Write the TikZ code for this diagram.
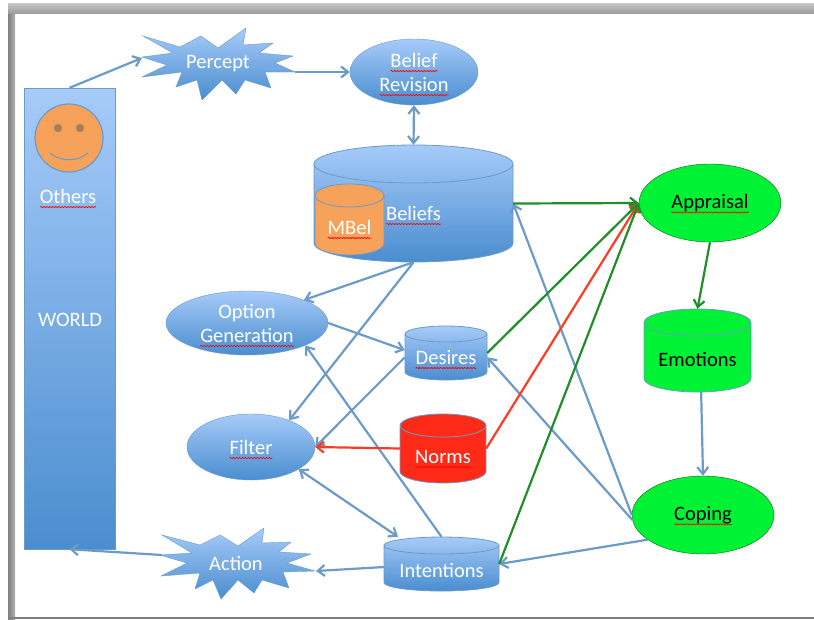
\documentclass[tikz,border=0pt]{standalone}
\usepackage{fontspec}
\setmainfont{Carlito}
\usetikzlibrary{shapes.geometric,arrows.meta,decorations.pathmorphing}
\definecolor{blueT}{HTML}{A6CBF9}
\definecolor{blueB}{HTML}{4A8DCF}
\definecolor{edgeB}{HTML}{6C9BC9}
\definecolor{lineG}{HTML}{1F8F2A}
\definecolor{lineR}{HTML}{FF3B24}
\definecolor{fillG}{HTML}{00F234}
\definecolor{fillO}{HTML}{F7A25A}
\definecolor{fillR}{HTML}{FF2A17}
\newsavebox\wordbox
\newcommand\spell[1]{\sbox\wordbox{#1}\leavevmode\tikz[overlay,baseline=0pt,x=1pt,y=1pt]\draw[red, line width=0.6pt, decorate, decoration={snake,amplitude=0.7pt,segment length=3pt}] (0,-4) -- (\wd\wordbox,-4);\usebox\wordbox}
% style, centre x, centre y, half width, half height, rim radius
\newcommand\drumbody[6]{%
	\draw[edgeB, line width=0.8pt, #1] ({#2-#4},{#3-#5+#6}) arc[start angle=180, end angle=360, x radius=#4, y radius=#6] -- ({#2+#4},{#3+#5-#6}) arc[start angle=0, end angle=180, x radius=#4, y radius=#6] -- cycle;
	\draw[edgeB, line width=0.8pt] ({#2-#4},{#3-#5+#6}) arc[start angle=180, end angle=0, x radius=#4, y radius=#6];
}
\begin{document}
\begin{tikzpicture}[x=1pt, y=-1pt, font=\fontsize{20.5}{24}\selectfont,
	blob/.style={ellipse, draw=edgeB, top color=blueT, bottom color=blueB, text=white, align=center, inner sep=0pt},
	greenblob/.style={ellipse, draw=lineG!70!black, fill=fillG, text=black, inner sep=0pt},
	drum/.style={rectangle, text=white, inner sep=0pt, text depth=0pt},
	bluedrum/.style={top color=blueT, bottom color=blueB},
	burst/.style={draw=edgeB, top color=blueT, bottom color=blueB},
	caption/.style={text=white, inner sep=0pt},
	link/.style={draw=edgeB, line width=2.2pt, -{Straight Barb[length=7pt,width=11pt]}},
	twoway/.style={draw=edgeB, line width=2.2pt, {Straight Barb[length=7pt,width=11pt]}-{Straight Barb[length=7pt,width=11pt]}},
	greenlink/.style={draw=lineG, line width=2.2pt, -{Straight Barb[length=7pt,width=11pt]}},
	redlink/.style={draw=lineR, line width=2.2pt, -{Straight Barb[length=7pt,width=11pt]}}]
	\useasboundingbox (0,0) rectangle (814,619);
	% window frame
	\fill[white] (0,0) rectangle (814,619);
	\fill[left color=black!50, right color=black!30] (8,3) rectangle (15,619);
	\fill[top color=black!22, bottom color=black!38] (8,3) rectangle (814,13);
	\fill[black!50] (8,617) rectangle (814,619);
	% world column
	\node[rectangle, draw=edgeB, top color=blueT, bottom color=blueB, minimum width=91pt, minimum height=461pt, inner sep=0pt] (W) at (69.5,318.5) {};
	\node[caption] (WT) at (70,320) {WORLD};
	\node[circle, draw=edgeB, line width=1.2pt, fill=fillO, minimum size=68pt, inner sep=0pt] (F) at (69,138) {};
	\fill[fill=black!25!fillO, draw=edgeB] (58,128) circle (4) (80,128) circle (4);
	\draw[edgeB, line width=1pt] (50,153) .. controls (60,162) and (78,162) .. (88,153);
	\node[caption] (O) at (68,196) {\spell{Others}};
	% bursts
	\draw[burst] (143,36) -- (180,47) -- (201,36) -- (218,48) -- (246,28) -- (243,45) -- (273,43) -- (259,53) -- (293,56) -- (275,63) -- (295,72) -- (265,72) -- (271,88) -- (245,80) -- (236,94) -- (222,80) -- (202,100) -- (197,80) -- (176,87) -- (182,72) -- (142,77) -- (167,65) -- (142,57) -- (173,53) -- cycle;
	\node[caption] (P) at (218,64) {Percept};
	\coordinate (PL) at (142,58);
	\coordinate (PR) at (295,72);
	\draw[burst] (162,535) -- (200,545) -- (220,535) -- (238,546) -- (264,528) -- (262,543) -- (291,542) -- (279,552) -- (311,554) -- (287,563) -- (315,571) -- (283,572) -- (289,588) -- (262,580) -- (254,593) -- (238,580) -- (221,599) -- (213,580) -- (195,589) -- (200,573) -- (161,576) -- (187,563) -- (160,555) -- (192,553) -- cycle;
	\node[caption] (A) at (236,563) {Action};
	\coordinate (AL) at (162,555);
	\coordinate (AR) at (316,571);
	% ellipses
	\node[blob, minimum width=128pt, minimum height=66pt] (BR) at (414,72) {\spell{Belief}\\\spell{Revision}};
	\node[blob, minimum width=162pt, minimum height=64pt] (OG) at (247,323) {Option\\\spell{Generation}};
	\node[blob, minimum width=128pt, minimum height=66pt] (Fi) at (251,447) {\spell{Filter}};
	\node[greenblob, minimum width=142pt, minimum height=78pt] (Ap) at (710,203) {\spell{Appraisal}};
	\node[greenblob, minimum width=142pt, minimum height=78pt] (Co) at (703,515) {\spell{Coping}};
	% cylinders
	\drumbody{bluedrum}{413.5}{203.5}{99.5}{58.5}{19}
	\node[drum, minimum width=199pt, minimum height=117pt, text height=33pt] (Be) at (413.5,203.5) {\spell{Beliefs}};
	\drumbody{top color=fillO, bottom color=fillO}{349.5}{219.5}{34.5}{35.5}{11.5}
	\node[drum, minimum width=69pt, minimum height=71pt, text height=29pt] (MB) at (349.5,219.5) {\spell{MBel}};
	\drumbody{bluedrum}{446}{353}{41}{27}{8}
	\node[drum, minimum width=82pt, minimum height=54pt, text height=22pt] (De) at (446,353) {\spell{Desires}};
	\drumbody{top color=fillR, bottom color=fillR}{443}{448.5}{43}{34.5}{11.5}
	\node[drum, minimum width=86pt, minimum height=69pt, text height=29pt] (No) at (443,448.5) {\spell{Norms}};
	\drumbody{top color=fillG, bottom color=fillG}{697.5}{350.5}{53.5}{41.5}{13.5}
	\node[drum, text=black, minimum width=107pt, minimum height=83pt, text height=31pt] (Em) at (697.5,350.5) {Emotions};
	\drumbody{bluedrum}{441.5}{564}{57.5}{27}{8.5}
	\node[drum, minimum width=115pt, minimum height=54pt, text height=26pt] (In) at (441.5,564) {Intentions};
	% blue arrows
	\draw[link] (W.north) -- (PL);
	\draw[link] (PR) -- (BR.west);
	\draw[twoway] (BR.south) -- (Be.north);
	\draw[link] (Be.south) -- (OG.22);
	\draw[link] (Be.south) -- (Fi.35);
	\draw[link] (OG.east) -- (De.176);
	\draw[link] (De.-174) -- (Fi.east);
	\draw[twoway] (Fi.-25) -- (In.148);
	\draw[link] (In.north) -- (OG.-21);
	\draw[link] (In.183) -- (AR);
	\draw[link] (AL) -- (W.south);
	\draw[link] (Co.west) -- (Be.east);
	\draw[link] (Co.-176) -- (De.-6);
	\draw[link] (Co.-156) -- (In.0);
	\draw[link] (Em.-85) -- (Co.north);
	% coloured arrows
	\draw[redlink] (No.180) -- (Fi.east);
	\draw[greenlink] (Be.east) -- (Ap.west);
	\draw[greenlink] (De.0) -- (Ap.west);
	\draw[redlink] (No.0) -- (Ap.west);
	\draw[greenlink] (In.0) -- (Ap.west);
	\draw[greenlink] (Ap.south) -- (Em.north);
\end{tikzpicture}
\end{document}
